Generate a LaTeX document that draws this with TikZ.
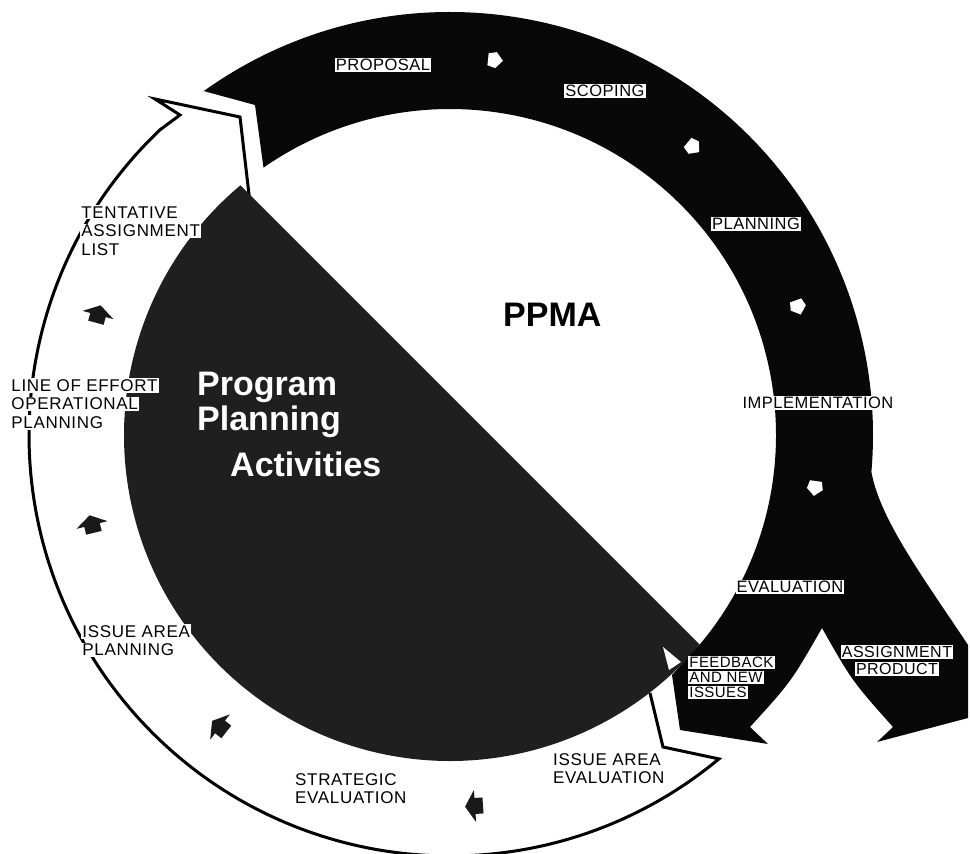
\documentclass[tikz,border=0pt]{standalone}
\usepackage{fontspec}
\setsansfont{Liberation Sans}
\newfontfamily\ppmafont[LetterSpace=3]{Liberation Sans}
\newfontfamily\notefont[LetterSpace=4]{Liberation Sans}
\usepackage{tikz}
\usetikzlibrary{calc}
\newcommand{\wb}[1]{\colorbox{white}{#1}}
\setlength{\fboxsep}{1.2pt}

\begin{document}
\begin{tikzpicture}[x=1pt, y=-1pt,
    band/.style={fill=black!97},
    disc/.style={fill=black!88},
    ringline/.style={line width=3pt, line join=miter},
    tag/.style={fill=white, inner sep=1.2pt, font=\ppmafont\fontsize{16.5}{18}\selectfont},
    note/.style={align=left, inner sep=0pt, font=\notefont\fontsize{17}{18.5}\selectfont},
    title/.style={text=white, inner sep=0pt, anchor=base west, font=\sffamily\bfseries\fontsize{34}{36}\selectfont},
    flowtip/.style={fill=white},
    cycletip/.style={fill=black!90}]
    \useasboundingbox (0,0) rectangle (970,854);
    \coordinate (C) at (450,435);

    % Planning cycle (white ring)
    \draw[ringline] (650,693) -- (663,747) -- ($(C)+(50.3:421)$) arc[start angle=50.3, end angle=226.5, radius=421]
        -- (180,115) -- (155,99) -- (240,117) -- (250,203);

    % Program Planning Activities (dark half)
    \fill[disc] ($(C)+(-130:326)$) arc[start angle=-130, end angle=-320, radius=326] -- cycle;

    % PPMA cycle (black band, two heads)
    \fill[band] ($(C)+(-125.6:423)$) arc[start angle=-125.6, end angle=5, radius=423]
        .. controls (880,520) and (925,580) .. (968,645) -- (968,718) -- (877,742) -- (893,727)
        .. controls (852,681) .. (822,628) .. controls (791,682) .. (750,727)
        -- (768,744) -- (680,730) -- (672,675)
        -- ($(C)+(40:326)$) arc[start angle=40, end angle=-124.9, radius=326] -- (255,105) -- cycle;
    \fill[white] (663,647) -- (681,662) -- (669,670) -- cycle;

    % small arrows
    \foreach \px/\py/\dir in {495/60/-6, 693/147/-40, 798/307/-70, 815/488/-98}
        \fill[flowtip, shift={(\px,\py)}, rotate=\dir] (8,0) -- (1,8) -- (-7,6) -- (-7,-6) -- (1,-8) -- cycle;
    \foreach \px/\py/\dir in {98/315/75, 92/525/104, 220/727/142, 475/806/184}
        \fill[cycletip, shift={(\px,\py)}, rotate=\dir] (10,0) -- (0,16) -- (0,8) -- (-8,8) -- (-8,-8) -- (0,-8) -- (0,-16) -- cycle;

    % PPMA steps
    \node[tag] (proposal) at (383,65) {PROPOSAL};
    \node[tag] (scoping) at (605,91) {SCOPING};
    \node[tag] (planning) at (756,224) {PLANNING};
    \node[tag] (implementation) at (818,403) {IMPLEMENTATION};
    \node[tag] (evaluation) at (790,587) {EVALUATION};
    \node[note, anchor=north west, font=\ppmafont\fontsize{15}{15}\selectfont] (feedback) at (688,656) {\wb{FEEDBACK}\\\wb{AND NEW}\\\wb{ISSUES}};
    \node[note, align=center, anchor=north, font=\ppmafont\fontsize{16}{17}\selectfont] (product) at (897,645) {\wb{ASSIGNMENT}\\\wb{PRODUCT}};

    % planning steps
    \node[note, anchor=north west] (tentative) at (80,205) {\wb{TENTATIVE}\\\wb{ASSIGNMENT}\\\wb{LIST}};
    \node[note, anchor=north west] (effort) at (10,378) {\wb{LINE OF EFFORT}\\\wb{OPERATIONAL}\\\wb{PLANNING}};
    \node[note, anchor=north west] (areaplan) at (81,624) {\wb{ISSUE AREA}\\\wb{PLANNING}};
    \node[note, anchor=north west] (strategic) at (295,773) {STRATEGIC\\EVALUATION};
    \node[note, anchor=north west] (areaeval) at (553,753) {ISSUE AREA\\EVALUATION};

    % titles
    \node[title, text=black] (ppma) at (503,326) {PPMA};
    \node[title] (prog1) at (197,395) {Program};
    \node[title] (prog2) at (197,430) {Planning};
    \node[title] (prog3) at (230,476) {Activities};
\end{tikzpicture}
\end{document}
